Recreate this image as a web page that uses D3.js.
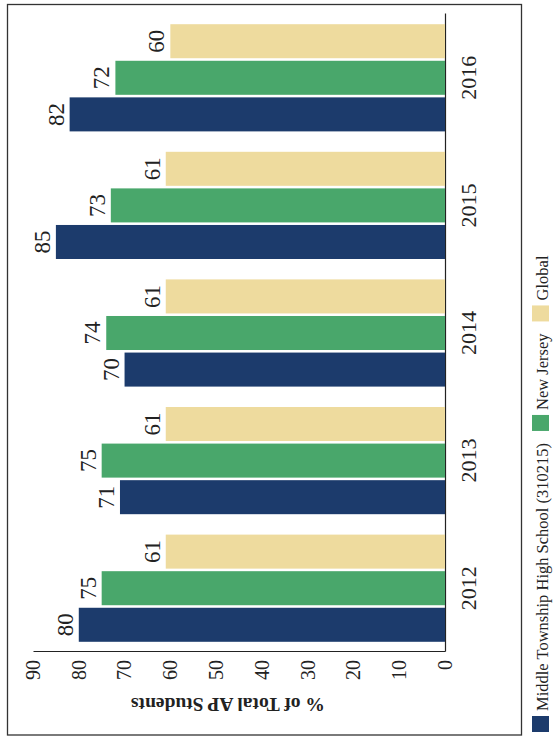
<!DOCTYPE html>
<html>
<head>
<meta charset="utf-8">
<script src="https://cdn.jsdelivr.net/npm/d3@7"></script>
<style>
  body { margin: 0; background: #fff; }
  text { font-family: "Liberation Serif", "Times New Roman", serif; fill: #222; }
</style>
</head>
<body>
<div id="chart"></div>
<script>
const years = ["2012", "2013", "2014", "2015", "2016"];
const seriesNames = ["Middle Township High School (310215)", "New Jersey", "Global"];
const middleTownship = [80, 71, 70, 85, 82];
const newJersey = [75, 75, 74, 73, 72];
const globalAvg = [61, 61, 61, 61, 60];
const yTicks = [0, 10, 20, 30, 40, 50, 60, 70, 80, 90];
const colors = ["#1c3b6c", "#49a76b", "#eedb9e"];

const seriesValues = [middleTownship, newJersey, globalAvg];
const rows = years.map((yr, i) => ({
    year: yr,
    values: seriesNames.map((s, j) => ({ key: s, value: seriesValues[j][i] }))
}));

const pageW = 554, pageH = 738;

const svg = d3.select("#chart").append("svg")
    .attr("width", pageW)
    .attr("height", pageH);

// frame
svg.append("rect")
    .attr("x", 7.5).attr("y", 4.5)
    .attr("width", 514).attr("height", 730.5)
    .attr("fill", "none")
    .attr("stroke", "#333")
    .attr("stroke-width", 1.3);

// the chart is drawn upright and then turned a quarter turn left
const g = svg.append("g")
    .attr("transform", `translate(0,${pageH}) rotate(-90)`);

const x0 = d3.scaleBand()
    .domain(years)
    .range([86, 724])
    .paddingInner(0.16)
    .paddingOuter(0.08);

const x1 = d3.scaleBand()
    .domain(seriesNames)
    .range([0, x0.bandwidth()])
    .paddingInner(0.07);

const y = d3.scaleLinear()
    .domain([0, 90])
    .range([445, 33]);

// y axis
const yAxis = g.append("g")
    .attr("transform", `translate(${x0.range()[0]},0)`)
    .call(d3.axisLeft(y).tickValues(yTicks).tickSize(0).tickPadding(8).tickSizeOuter(0));
yAxis.select(".domain").attr("stroke", "#222").attr("stroke-width", 1.2);
yAxis.selectAll("text").style("font-size", "20px").attr("fill", "#222");

// x axis
const xAxis = g.append("g")
    .attr("transform", `translate(0,${y(0)})`)
    .call(d3.axisBottom(x0).tickSize(0).tickPadding(15).tickSizeOuter(0));
xAxis.select(".domain").attr("stroke", "#222").attr("stroke-width", 1.2);
xAxis.selectAll("text").style("font-size", "22px").attr("fill", "#222");

// bars
const groups = g.selectAll(".grp")
    .data(rows)
    .enter().append("g")
    .attr("class", "grp")
    .attr("transform", d => `translate(${x0(d.year)},0)`);

groups.selectAll("rect")
    .data(d => d.values)
    .enter().append("rect")
    .attr("x", d => x1(d.key))
    .attr("width", x1.bandwidth())
    .attr("y", d => y(d.value))
    .attr("height", d => y(0) - y(d.value))
    .attr("fill", (d, i) => colors[i]);

groups.selectAll(".val")
    .data(d => d.values)
    .enter().append("text")
    .attr("class", "val")
    .attr("text-anchor", "middle")
    .attr("x", d => x1(d.key) + x1.bandwidth() / 2)
    .attr("y", d => y(d.value) - 6)
    .style("font-size", "23px")
    .text(d => d.value);

// y axis title
g.append("text")
    .attr("transform", "rotate(-90)")
    .attr("text-anchor", "middle")
    .attr("x", -228)
    .attr("y", 40)
    .style("font-size", "19.5px")
    .style("font-weight", "bold")
    .text("% of Total AP Students");

// legend along the bottom of the upright chart
const legend = g.append("g").attr("transform", "translate(6,532)");
let lx = 0;
seriesNames.forEach((name, i) => {
    legend.append("rect")
        .attr("x", lx).attr("y", 0)
        .attr("width", 16).attr("height", 17)
        .attr("fill", colors[i]);
    lx += 21;
    const t = legend.append("text")
        .attr("x", lx).attr("y", 16)
        .style("font-size", "16.5px")
        .text(name);
    lx += t.node().getComputedTextLength() + 12;
});
</script>
</body>
</html>
